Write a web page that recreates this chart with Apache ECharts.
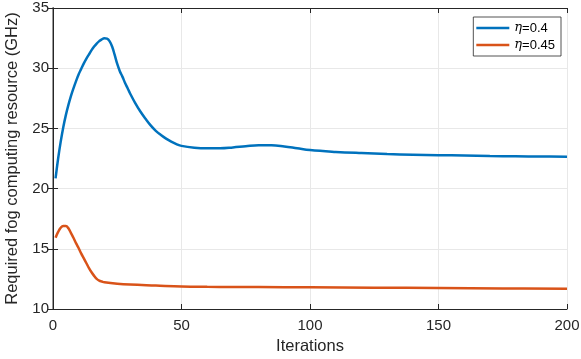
<!DOCTYPE html>
<html>
<head>
<meta charset="utf-8">
<script src="https://cdn.jsdelivr.net/npm/echarts@6/dist/echarts.min.js"></script>
<style>
  html, body { margin: 0; padding: 0; background: #fff; }
  #chart { width: 581px; height: 359px; }
</style>
</head>
<body>
<div id="chart"></div>
<script>
// values
const iterBlue = [1, 2, 3, 4, 5, 6, 7, 8, 9, 10, 11, 12, 13, 14, 15, 16, 17, 18, 19, 20, 21, 22, 23, 24, 25, 26, 27, 28, 29, 30, 32, 34, 36, 38, 40, 42, 44, 46, 48, 50, 55, 60, 65, 70, 75, 80, 85, 90, 95, 100, 110, 120, 130, 140, 150, 160, 170, 180, 190, 200]
const valBlue = [20.85, 22.5, 23.9, 25.1, 26.1, 26.95, 27.7, 28.35, 28.95, 29.5, 29.95, 30.4, 30.8, 31.15, 31.5, 31.8, 32.05, 32.25, 32.4, 32.48, 32.45, 32.25, 31.8, 31.1, 30.35, 29.75, 29.3, 28.8, 28.35, 27.9, 27.1, 26.4, 25.8, 25.25, 24.8, 24.45, 24.15, 23.9, 23.7, 23.55, 23.4, 23.35, 23.35, 23.42, 23.52, 23.6, 23.6, 23.5, 23.35, 23.2, 23.05, 22.95, 22.87, 22.82, 22.78, 22.74, 22.7, 22.68, 22.66, 22.65]

const iterOrange = [1, 2, 3, 4, 5, 6, 7, 8, 9, 10, 11, 12, 13, 14, 15, 16, 17, 18, 19, 20, 25, 30, 40, 50, 60, 70, 80, 100, 125, 150, 175, 200]
const valOrange = [15.92, 16.4, 16.75, 16.9, 16.9, 16.7, 16.3, 15.9, 15.45, 15.05, 14.6, 14.2, 13.8, 13.4, 13.05, 12.75, 12.5, 12.35, 12.28, 12.22, 12.1, 12.03, 11.95, 11.87, 11.84, 11.83, 11.82, 11.8, 11.77, 11.74, 11.71, 11.69]

const seriesNames = ['η=0.4', 'η=0.45']
const xTicks = { min: 0, max: 200, interval: 50 }
const yTicks = { min: 10, max: 35, interval: 5 }

const pairs = (xs, ys) => xs.map((x, i) => [x, ys[i]])

const chart = echarts.init(document.getElementById('chart'))

const axisColor = '#262626'
const fontFamily = 'Liberation Sans, Arial, sans-serif'

const hiddenAxis = {
  axisLine: { show: true, lineStyle: { color: axisColor, width: 1 } },
  axisTick: { show: true, inside: true, length: 5, lineStyle: { color: axisColor } },
  axisLabel: { show: false },
  splitLine: { show: false }
}

const option = {
  backgroundColor: '#fff',
  animation: false,
  grid: { left: 53, right: 14, top: 8, bottom: 50, containLabel: false, outerBoundsMode: 'none' },
  legend: {
    right: 20,
    top: 17,
    orient: 'vertical',
    backgroundColor: '#fff',
    borderColor: '#262626',
    borderWidth: 0.8,
    borderRadius: 0,
    padding: [4, 6, 4, 3],
    itemGap: 3,
    itemWidth: 33,
    itemHeight: 2.5,
    icon: 'rect',
    data: seriesNames,
    formatter: (name) => '{i|η}' + name.slice(1),
    textStyle: {
      color: '#000',
      fontFamily: fontFamily,
      fontSize: 13,
      lineHeight: 14,
      rich: {
        i: { fontStyle: 'italic', fontFamily: 'DejaVu Serif, serif', fontSize: 13 }
      }
    }
  },
  xAxis: [{
    type: 'value',
    min: xTicks.min,
    max: xTicks.max,
    interval: xTicks.interval,
    name: 'Iterations',
    nameLocation: 'middle',
    nameGap: 24,
    nameTextStyle: { color: axisColor, fontSize: 16.5, fontFamily: fontFamily },
    axisLine: { show: true, lineStyle: { color: axisColor, width: 1 } },
    axisTick: { show: true, inside: true, length: 5, lineStyle: { color: axisColor } },
    axisLabel: { color: axisColor, fontSize: 15, fontFamily: fontFamily, margin: 9 },
    splitLine: { show: true, lineStyle: { color: '#e8e8e8', width: 1 } }
  }, Object.assign({
    type: 'value', position: 'top',
    min: xTicks.min, max: xTicks.max, interval: xTicks.interval
  }, hiddenAxis)],
  yAxis: [{
    type: 'value',
    min: yTicks.min,
    max: yTicks.max,
    interval: yTicks.interval,
    name: 'Required fog computing resource (GHz)',
    nameLocation: 'middle',
    nameGap: 31,
    nameTextStyle: { color: axisColor, fontSize: 16.5, fontFamily: fontFamily },
    axisLine: { show: true, lineStyle: { color: '#999', width: 2 } },
    axisTick: { show: true, inside: true, length: 5, lineStyle: { color: axisColor } },
    axisLabel: { color: axisColor, fontSize: 15, fontFamily: fontFamily, margin: 4 },
    splitLine: { show: true, lineStyle: { color: '#e8e8e8', width: 1 } }
  }, Object.assign({
    type: 'value', position: 'right',
    min: yTicks.min, max: yTicks.max, interval: yTicks.interval
  }, hiddenAxis)],
  series: [{
    name: seriesNames[0],
    type: 'line',
    data: pairs(iterBlue, valBlue),
    smooth: 0.4,
    symbol: 'none',
    lineStyle: { color: '#0072BD', width: 2.5 },
    itemStyle: { color: '#0072BD' }
  }, {
    name: seriesNames[1],
    type: 'line',
    data: pairs(iterOrange, valOrange),
    smooth: 0.4,
    symbol: 'none',
    lineStyle: { color: '#D95319', width: 2.5 },
    itemStyle: { color: '#D95319' }
  }]
}

chart.setOption(option)
</script>
</body>
</html>
